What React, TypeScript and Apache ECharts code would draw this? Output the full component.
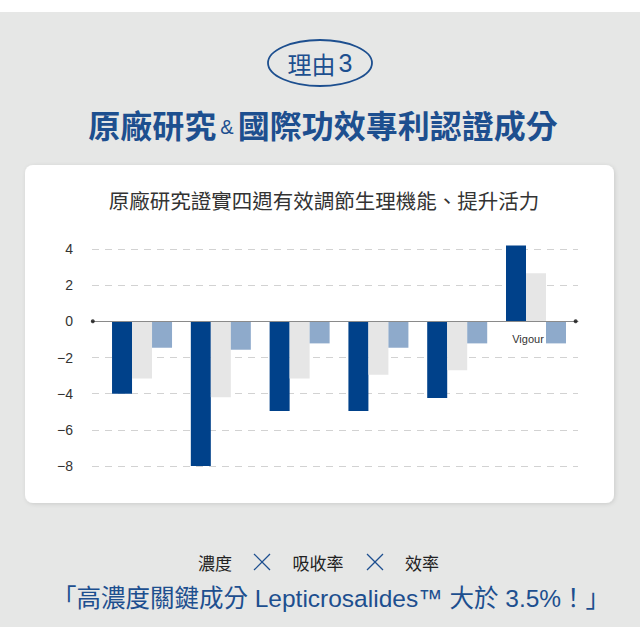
import React, { useEffect, useRef } from 'react';
import * as echarts from 'echarts';

const groups = ['1', '2', '3', '4', '5', 'Vigour'];
const darkValues = [-4.0, -8.0, -4.96, -4.96, -4.24, 4.19];
const grayValues = [-3.16, -4.2, -3.16, -2.95, -2.71, 2.66];
const blueValues = [-1.46, -1.57, -1.22, -1.46, -1.22, -1.22];
const yTicks = [-8, -6, -4, -2, 0, 2, 4];

const X_MIN = -0.635;
const X_MAX = 5.533;

const DARK = '#00418a';
const GRAY = '#e6e6e6';
const LIGHT = '#8eaacb';
const NAVY = '#1d4f8f';
const CJK = '"Noto Sans CJK TC", "Noto Sans", sans-serif';
const LATIN = '"Liberation Sans", Arial, sans-serif';
const MIXED = '"Liberation Sans", "Noto Sans CJK TC", sans-serif';

function toPairs(vals: number[]) {
  return vals.map((v, i) => [i, v]);
}

export default function App() {
  const elRef = useRef<HTMLDivElement>(null);

  useEffect(() => {
    if (!elRef.current) return;
    const chart = echarts.init(elRef.current, null, { renderer: 'svg' });

    const darkData: any[] = toPairs(darkValues);
    const lastIdx = groups.length - 1;
    darkData[lastIdx] = {
      value: darkData[lastIdx],
      label: {
        show: true,
        position: 'bottom',
        distance: 12,
        offset: [12, 0],
        formatter: groups[lastIdx],
        color: '#333',
        fontSize: 11,
        fontFamily: LATIN,
      },
    };

    const cross = (cx: number, cy: number) => [
      {
        type: 'line',
        shape: { x1: cx - 8, y1: cy - 8, x2: cx + 8, y2: cy + 8 },
        style: { stroke: NAVY, lineWidth: 1.2 },
        z: 5,
      },
      {
        type: 'line',
        shape: { x1: cx - 8, y1: cy + 8, x2: cx + 8, y2: cy - 8 },
        style: { stroke: NAVY, lineWidth: 1.2 },
        z: 5,
      },
    ];

    const barBase = { type: 'bar', barWidth: 20, barGap: '0%', clip: false };

    chart.setOption({
      animation: false,
      grid: { left: 92, right: 62, top: 249, bottom: 174 },
      xAxis: {
        type: 'value',
        min: X_MIN,
        max: X_MAX,
        axisLabel: { show: false },
        axisTick: { show: false },
        splitLine: { show: false },
        axisLine: {
          show: true,
          onZero: true,
          lineStyle: { color: '#8a8a8a', width: 1 },
        },
        z: 3,
      },
      yAxis: {
        type: 'value',
        min: yTicks[0],
        max: yTicks[yTicks.length - 1],
        interval: 2,
        axisLine: { show: false },
        axisTick: { show: false },
        axisLabel: {
          color: '#333',
          fontSize: 14,
          fontFamily: LATIN,
          margin: 19,
          formatter: (v: number) => String(v).replace('-', '\u2212'),
        },
        splitLine: {
          show: true,
          lineStyle: { color: '#d2d2d2', type: [7, 6], width: 1 },
        },
      },
      series: [
        { ...barBase, data: darkData, itemStyle: { color: DARK } },
        { ...barBase, data: toPairs(grayValues), itemStyle: { color: GRAY } },
        { ...barBase, data: toPairs(blueValues), itemStyle: { color: LIGHT } },
        {
          type: 'scatter',
          data: [
            [X_MIN + 0.01, 0],
            [X_MAX - 0.03, 0],
          ],
          symbolSize: 4,
          itemStyle: { color: '#111' },
          z: 4,
          silent: true,
        },
      ],
      graphic: [
        {
          type: 'rect',
          shape: { x: 0, y: 12, width: 640, height: 615 },
          style: { fill: '#e6e7e6' },
          z: -10,
        },
        {
          type: 'rect',
          shape: { x: 25, y: 165, width: 589, height: 338, r: 8 },
          style: {
            fill: '#ffffff',
            shadowBlur: 4,
            shadowColor: 'rgba(0,0,0,0.12)',
            shadowOffsetX: 1,
            shadowOffsetY: 1,
          },
          z: -9,
        },
        {
          type: 'ellipse',
          shape: { cx: 320, cy: 63, rx: 52, ry: 23 },
          style: { fill: 'none', stroke: NAVY, lineWidth: 1.8 },
          z: 5,
        },
        {
          type: 'text',
          x: 320,
          y: 63,
          style: {
            text: '{c|理由}{n|3}',
            align: 'center',
            verticalAlign: 'middle',
            rich: {
              c: { fontSize: 24, fill: NAVY, fontFamily: CJK },
              n: { fontSize: 25, fill: NAVY, fontFamily: LATIN, padding: [0, 0, 0, 3] },
            },
          },
          z: 5,
        },
        {
          type: 'text',
          x: 323,
          y: 124,
          style: {
            text: '{b|原廠研究}{a|&}{b|國際功效專利認證成分}',
            align: 'center',
            verticalAlign: 'middle',
            rich: {
              b: { fontSize: 32, fontWeight: 'bold', fill: NAVY, fontFamily: CJK },
              a: { fontSize: 20, fill: NAVY, fontFamily: LATIN, padding: [6, 4, 0, 4] },
            },
          },
          z: 5,
        },
        {
          type: 'text',
          x: 324,
          y: 200,
          style: {
            text: '原廠研究證實四週有效調節生理機能、提升活力',
            fill: '#333',
            fontSize: 20.5,
            fontFamily: CJK,
            align: 'center',
            verticalAlign: 'middle',
          },
          z: 5,
        },
        {
          type: 'text',
          x: 215,
          y: 562,
          style: { text: '濃度', fill: '#222', fontSize: 17, fontFamily: CJK, align: 'center', verticalAlign: 'middle' },
          z: 5,
        },
        {
          type: 'text',
          x: 318,
          y: 562,
          style: { text: '吸收率', fill: '#222', fontSize: 17, fontFamily: CJK, align: 'center', verticalAlign: 'middle' },
          z: 5,
        },
        {
          type: 'text',
          x: 422,
          y: 562,
          style: { text: '效率', fill: '#222', fontSize: 17, fontFamily: CJK, align: 'center', verticalAlign: 'middle' },
          z: 5,
        },
        ...cross(262, 562),
        ...cross(375, 562),
        {
          type: 'text',
          x: 331,
          y: 598,
          style: {
            text: '「高濃度關鍵成分 Lepticrosalides™ 大於 3.5%！」',
            fill: NAVY,
            fontSize: 24.5,
            fontFamily: MIXED,
            align: 'center',
            verticalAlign: 'middle',
          },
          z: 5,
        },
      ],
    });

    return () => chart.dispose();
  }, []);

  return (
    <div
      ref={elRef}
      style={{ position: 'absolute', left: 0, top: 0, width: 640, height: 640, background: '#fff' }}
    />
  );
}
